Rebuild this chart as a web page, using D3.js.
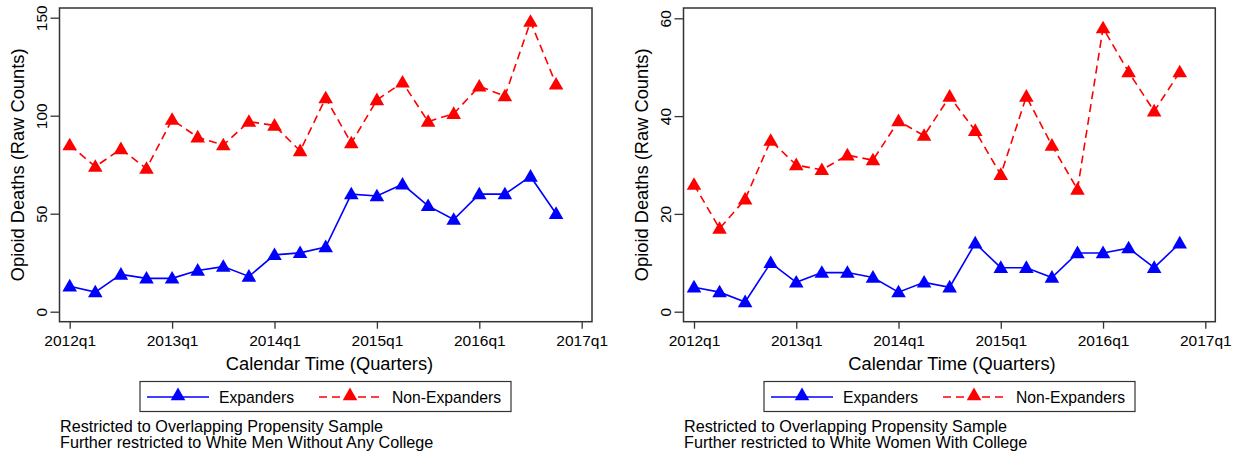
<!DOCTYPE html>
<html>
<head>
<meta charset="utf-8">
<script src="https://cdn.jsdelivr.net/npm/d3@7"></script>
<style>
  html, body { margin: 0; padding: 0; background: #fff; }
  svg { display: block; font-family: "Liberation Sans", Arial, sans-serif; }
</style>
</head>
<body>
<svg id="chart" width="1242" height="455"></svg>
<script>
// Quarterly opioid death counts, 2012q1 through 2016q4
const quarters = [
  "2012q1","2012q2","2012q3","2012q4",
  "2013q1","2013q2","2013q3","2013q4",
  "2014q1","2014q2","2014q3","2014q4",
  "2015q1","2015q2","2015q3","2015q4",
  "2016q1","2016q2","2016q3","2016q4"
];
const xTickLabels = ["2012q1","2013q1","2014q1","2015q1","2016q1","2017q1"];

const menExpanders    = [13, 10, 19, 17, 17, 21, 23, 18, 29, 30, 33, 60, 59, 65, 54, 47, 60, 60, 69, 50];
const menNonExpanders = [85, 74, 83, 73, 98, 89, 85, 97, 95, 82, 109, 86, 108, 117, 97, 101, 115, 110, 148, 116];
const menYTicks = [0, 50, 100, 150];

const womenExpanders    = [5, 4, 2, 10, 6, 8, 8, 7, 4, 6, 5, 14, 9, 9, 7, 12, 12, 13, 9, 14];
const womenNonExpanders = [26, 17, 23, 35, 30, 29, 32, 31, 39, 36, 44, 37, 28, 44, 34, 25, 58, 49, 41, 49];
const womenYTicks = [0, 20, 40, 60];

const seriesNames = ["Expanders", "Non-Expanders"];
const notes = {
  men: ["Restricted to Overlapping Propensity Sample", "Further restricted to White Men Without Any College"],
  women: ["Restricted to Overlapping Propensity Sample", "Further restricted to White Women With College"]
};

const svg = d3.select("#chart");
const BLUE = "#0000ff", RED = "#ff0000", FRAME = "#333333";
const triangle = d3.symbol().type(d3.symbolTriangle).size(92);

function panel(cfg) {
  const g = svg.append("g");
  const box = cfg.box;
  const x = d3.scaleLinear().domain([0, quarters.length]).range(cfg.xRange);
  const y = d3.scaleLinear().domain([0, cfg.yMax]).range(cfg.yRange);

  // plot region frame
  g.append("rect")
    .attr("x", box.left).attr("y", box.top)
    .attr("width", box.right - box.left).attr("height", box.bottom - box.top)
    .attr("fill", "none").attr("stroke", FRAME).attr("stroke-width", 1.5);

  // y axis
  const yAxis = g.append("g")
    .attr("transform", `translate(${box.left},0)`)
    .call(d3.axisLeft(y).tickValues(cfg.yTicks).tickSize(9).tickFormat(d3.format("d")));
  yAxis.select(".domain").remove();
  yAxis.selectAll(".tick line").attr("stroke", FRAME).attr("stroke-width", 1.3);
  yAxis.selectAll(".tick text")
    .attr("x", null).attr("dy", null)
    .attr("transform", "translate(-13,0) rotate(-90)")
    .attr("text-anchor", "middle")
    .attr("font-size", 15.5).attr("fill", "#000");

  // x axis
  const xAxis = g.append("g")
    .attr("transform", `translate(0,${box.bottom})`)
    .call(d3.axisBottom(x).tickValues([0, 4, 8, 12, 16, 20]).tickSize(7)
      .tickFormat((d, i) => xTickLabels[i]));
  xAxis.select(".domain").remove();
  xAxis.selectAll(".tick line").attr("stroke", FRAME).attr("stroke-width", 1.3);
  xAxis.selectAll(".tick text")
    .attr("y", 24).attr("dy", null)
    .attr("font-size", 15.5).attr("fill", "#000");

  // axis titles
  g.append("text")
    .attr("transform", `translate(${box.left - 36},${(box.top + box.bottom) / 2}) rotate(-90)`)
    .attr("text-anchor", "middle").attr("font-size", 18.3)
    .text("Opioid Deaths (Raw Counts)");
  g.append("text")
    .attr("x", cfg.titleX).attr("y", 370)
    .attr("text-anchor", "middle").attr("font-size", 18.3)
    .text("Calendar Time (Quarters)");

  // series
  const line = d3.line().x((d, i) => x(i)).y(d => y(d));
  const series = [
    { values: cfg.expanders, color: BLUE, dash: null },
    { values: cfg.nonExpanders, color: RED, dash: "8,5" }
  ];
  series.forEach(s => {
    g.append("path")
      .datum(s.values)
      .attr("d", line)
      .attr("fill", "none").attr("stroke", s.color).attr("stroke-width", 1.6)
      .attr("stroke-dasharray", s.dash);
    g.selectAll(null)
      .data(s.values)
      .enter().append("path")
      .attr("d", triangle)
      .attr("transform", (d, i) => `translate(${x(i)},${y(d) + 1})`)
      .attr("fill", s.color);
  });

  // legend
  const lg = cfg.legend;
  g.append("rect")
    .attr("x", lg.left).attr("y", 381.5)
    .attr("width", lg.right - lg.left).attr("height", 30)
    .attr("fill", "#fff").attr("stroke", FRAME).attr("stroke-width", 1.2);
  const ly = 397;
  lg.items.forEach((it, k) => {
    const s = series[k];
    g.append("line")
      .attr("x1", it.x1).attr("x2", it.x2).attr("y1", ly).attr("y2", ly)
      .attr("stroke", s.color).attr("stroke-width", 1.6)
      .attr("stroke-dasharray", s.dash);
    g.append("path")
      .attr("d", triangle)
      .attr("transform", `translate(${(it.x1 + it.x2) / 2},${ly - 1})`)
      .attr("fill", s.color);
    g.append("text")
      .attr("x", it.tx).attr("y", 403)
      .attr("font-size", 15.7).attr("fill", "#000")
      .text(seriesNames[k]);
  });

  // notes
  cfg.notes.forEach((t, k) => {
    g.append("text")
      .attr("x", cfg.noteX).attr("y", 432 + k * 16)
      .attr("font-size", 16.2).attr("fill", "#000")
      .text(t);
  });
}

panel({
  box: { left: 59.5, right: 592, top: 8, bottom: 321.7 },
  xRange: [69.7, 581.7],
  yRange: [311.7, 17.7],
  yMax: 150,
  yTicks: menYTicks,
  expanders: menExpanders,
  nonExpanders: menNonExpanders,
  titleX: 329.5,
  legend: { left: 140, right: 511, items: [
    { x1: 147, x2: 209, tx: 219 },
    { x1: 319, x2: 381, tx: 392 }
  ]},
  notes: notes.men,
  noteX: 60
});

panel({
  box: { left: 683.5, right: 1215.3, top: 8, bottom: 321.7 },
  xRange: [694, 1205.3],
  yRange: [311.7, 18.3],
  yMax: 60,
  yTicks: womenYTicks,
  expanders: womenExpanders,
  nonExpanders: womenNonExpanders,
  titleX: 952,
  legend: { left: 764, right: 1135, items: [
    { x1: 771, x2: 833, tx: 843 },
    { x1: 943, x2: 1005, tx: 1016 }
  ]},
  notes: notes.women,
  noteX: 684
});
</script>
</body>
</html>
